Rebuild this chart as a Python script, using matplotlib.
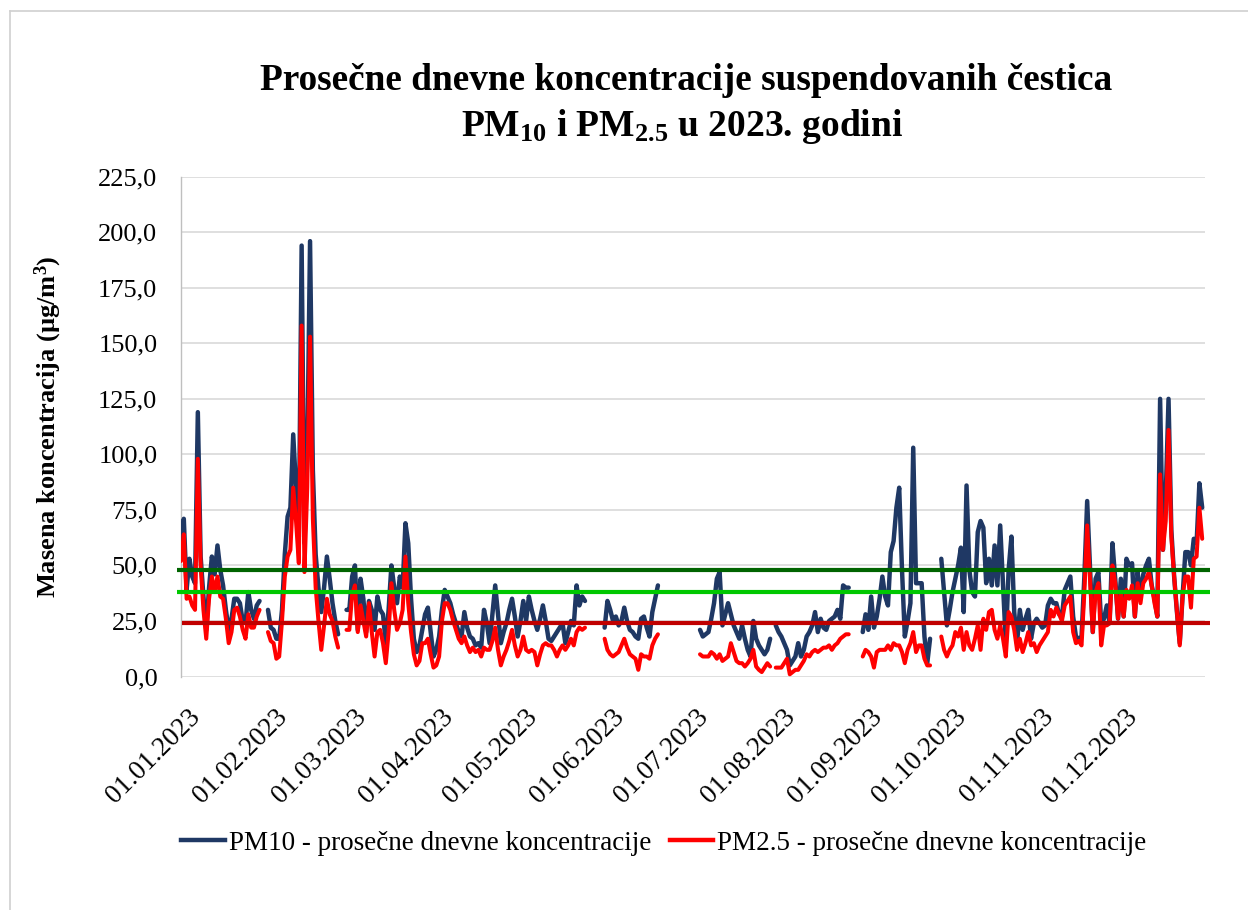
import numpy as np
import matplotlib
matplotlib.use("Agg")
import matplotlib.pyplot as plt
from matplotlib.ticker import FuncFormatter, FixedLocator
from matplotlib.transforms import ScaledTranslation
from matplotlib.lines import Line2D

nan = np.nan

# ---------------- data (daily averages, µg/m3) ----------------
pm10_jan = [59, 71, 39, 53, 45, 42, 119, 54, 36, 21, 40, 54, 46, 59, 48, 41, 30, 21, 26, 35,
            35, 33, 25, 24, 38, 30, 26, 32, 34, nan, nan]
pm25_jan = [52, 64, 35, 36, 32, 30, 98, 50, 30, 17, 35, 45, 38, 45, 36, 35, 26, 15, 20, 30,
            31, 27, 21, 17, 28, 22, 22, 27, 30, nan, nan]
pm10_feb = [30, 22, 21, 17, 17, 30, 55, 72, 76, 109, 85, 63, 194, 60, 98, 196, 93, 55, 40, 29,
            40, 54, 44, 33, 25, 19, nan, nan]
pm25_feb = [20, 16, 15, 8, 9, 25, 45, 54, 57, 85, 70, 51, 158, 47, 85, 153, 71, 40, 25, 12,
            23, 35, 28, 25, 18, 13, nan, nan]
pm10_mar = [30, 30, 45, 50, 21, 44, 35, 20, 34, 30, 21, 36, 30, 28, 15, 30, 50, 40, 33, 45,
            40, 69, 60, 35, 17, 11, 14, 21, 28, 31, 20]
pm25_mar = [21, 21, 37, 41, 20, 32, 25, 18, 33, 20, 9, 20, 21, 15, 6, 20, 42, 30, 21, 24,
            30, 54, 33, 20, 10, 5, 7, 15, 15, 17, 10]
pm10_apr = [9, 12, 18, 30, 39, 36, 33, 28, 24, 20, 18, 29, 22, 18, 17, 14, 15, 13, 30, 24,
            15, 28, 41, 28, 15, 20, 24, 30, 35, 27]
pm25_apr = [4, 5, 9, 25, 33, 33, 30, 25, 21, 17, 15, 18, 14, 11, 13, 11, 12, 9, 13, 12,
            12, 16, 22, 12, 5, 9, 12, 16, 21, 14]
pm10_may = [18, 25, 34, 25, 36, 30, 25, 21, 26, 32, 25, 17, 16, 18, 20, 22, 24, 15, 20, 25,
            23, 41, 32, 36, 34, nan, nan, nan, nan, nan, nan]
pm25_may = [9, 12, 18, 12, 11, 12, 11, 5, 10, 14, 15, 14, 14, 12, 9, 12, 14, 12, 14, 17,
            14, 20, 22, 21, 22, nan, nan, nan, nan, nan, nan]
pm10_jun = [22, 34, 30, 25, 27, 23, 25, 31, 25, 21, 20, 18, 17, 26, 27, 22, 18, 29, 35, 41,
            nan, nan, nan, nan, nan, nan, nan, nan, nan, nan]
pm25_jun = [17, 12, 10, 9, 10, 11, 14, 17, 13, 10, 9, 8, 3, 10, 9, 9, 8, 14, 17, 19,
            nan, nan, nan, nan, nan, nan, nan, nan, nan, nan]
pm10_jul = [nan, nan, nan, nan, 21, 18, 19, 20, 26, 33, 44, 47, 23, 28, 33, 28, 23, 20, 17, 23,
            17, 12, 9, 25, 17, 14, 12, 10, 12, 17, nan]
pm25_jul = [nan, nan, nan, nan, 10, 9, 9, 9, 11, 10, 8, 10, 7, 8, 9, 15, 11, 7, 6, 6,
            4.5, 6, 8, 12, 4.5, 3, 2, 4, 6, 4.5, nan]
pm10_aug = [23, 20, 18, 15, 12, 5, 7, 9, 15, 9, 12, 18, 20, 23, 29, 20, 26, 22, 21, 25,
            26, 27, 30, 26, 41, 40, 40, nan, nan, nan, nan]
pm25_aug = [4, 4, 4, 6, 8, 1, 2, 3, 3, 5, 7, 10, 9, 11, 12, 11, 12, 13, 13, 14,
            12, 14, 15, 17, 18, 19, 19, nan, nan, nan, nan]
pm10_sep = [20, 28, 21, 36, 22, 27, 35, 45, 36, 32, 56, 61, 76, 85, 48, 18, 25, 33, 103, 42,
            42, 42, 18, 6, 17, nan, nan, nan, 53, 38]
pm25_sep = [9, 12, 11, 9, 4, 11, 12, 12, 12, 14, 12, 15, 14, 14, 11, 6, 12, 15, 20, 11,
            14, 14, 8, 5, 5, nan, nan, nan, 18, 12]
pm10_oct = [23, 30, 38, 44, 50, 58, 29, 86, 48, 38, 36, 65, 70, 67, 42, 53, 41, 59, 41, 68,
            41, 15, 48, 63, 29, 15, 30, 21, 26, 30, 17]
pm25_oct = [9, 12, 14, 20, 18, 22, 12, 20, 14, 12, 17, 23, 12, 26, 21, 29, 30, 21, 17, 23,
            17, 9, 29, 27, 21, 12, 17, 11, 15, 20, 14]
pm10_nov = [24, 26, 24, 22, 23, 32, 35, 33, 33, 28, 27, 39, 42, 45, 27, 18, 17, 18, 45, 79,
            50, 20, 44, 47, 24, 26, 32, 24, 60, 44]
pm25_nov = [15, 11, 14, 16, 18, 20, 30, 27, 31, 28, 25, 32, 34, 36, 20, 15, 16, 14, 38, 68,
            44, 20, 38, 42, 14, 23, 23, 24, 50, 42]
pm10_dec = [26, 44, 27, 53, 50, 51, 27, 47, 36, 46, 50, 53, 41, 35, 27, 125, 57, 81, 125, 66,
            45, 29, 15, 36, 56, 56, 50, 62, 60, 87, 76]
pm25_dec = [26, 38, 27, 39, 35, 41, 27, 42, 33, 42, 44, 47, 41, 33, 27, 91, 57, 70, 111, 63,
            45, 29, 14, 36, 45, 45, 31, 53, 54, 76, 62]

# reference levels drawn across the chart
ref_levels = [48.0, 38.0, 24.0]
ref_colors = ["#006400", "#00C800", "#C00000"]

month_labels = ["01.01.2023", "01.02.2023", "01.03.2023", "01.04.2023", "01.05.2023",
                "01.06.2023", "01.07.2023", "01.08.2023", "01.09.2023", "01.10.2023",
                "01.11.2023", "01.12.2023"]
month_lengths = [31, 28, 31, 30, 31, 30, 31, 31, 30, 31, 30, 31]

series_label_pm10 = "PM10 - prosečne dnevne koncentracije"
series_label_pm25 = "PM2.5 - prosečne dnevne koncentracije"

pm10 = np.array(pm10_jan + pm10_feb + pm10_mar + pm10_apr + pm10_may + pm10_jun +
                pm10_jul + pm10_aug + pm10_sep + pm10_oct + pm10_nov + pm10_dec, dtype=float)
pm25 = np.array(pm25_jan + pm25_feb + pm25_mar + pm25_apr + pm25_may + pm25_jun +
                pm25_jul + pm25_aug + pm25_sep + pm25_oct + pm25_nov + pm25_dec, dtype=float)
days = np.arange(len(pm10))
month_starts = np.concatenate([[0], np.cumsum(month_lengths)[:-1]])

# ---------------- style ----------------
plt.rcParams['font.family'] = ['Liberation Serif', 'DejaVu Serif']
plt.rcParams['mathtext.fontset'] = 'custom'
plt.rcParams['mathtext.rm'] = 'Liberation Serif:bold'
plt.rcParams['mathtext.bf'] = 'Liberation Serif:bold'
plt.rcParams['mathtext.it'] = 'Liberation Serif:bold:italic'

W, H = 1248, 910
fig = plt.figure(figsize=(W / 100, H / 100), dpi=100)
fig.patch.set_facecolor('white')

x0, x1, ytop, ybot = 181, 1205, 176.7, 676.5
ax = fig.add_axes([x0 / W, 1 - ybot / H, (x1 - x0) / W, (ybot - ytop) / H])

blue = "#1F3864"
red = "#FF0000"

ax.plot(days, pm10, color=blue, lw=3.2, solid_joinstyle='round', solid_capstyle='round',
        zorder=3)
ax.plot(days, pm25, color=red, lw=2.9, solid_joinstyle='round', solid_capstyle='round',
        zorder=4)

for lvl, c in zip(ref_levels, ref_colors):
    start = -1.5 if c != "#C00000" else 0.3
    ax.plot([start, 366.8], [lvl, lvl], color=c, lw=3.0, zorder=5, clip_on=False,
            solid_capstyle='butt')

ax.set_xlim(0, 365)
ax.set_ylim(0, 225)
ax.yaxis.set_major_locator(FixedLocator(np.arange(0, 226, 25)))
ax.yaxis.set_major_formatter(FuncFormatter(lambda v, p: f"{v:.1f}".replace('.', ',')))
ax.grid(axis='y', color='#D9D9D9', lw=1.2)
ax.set_axisbelow(True)
for s in ['top', 'right', 'bottom']:
    ax.spines[s].set_visible(False)
ax.spines['left'].set_color('#BFBFBF')
ax.spines['left'].set_linewidth(1.0)

ax.set_xticks(month_starts)
ax.set_xticklabels(month_labels, rotation=45, ha='right', va='top', rotation_mode='anchor')
ax.tick_params(axis='x', length=0, pad=20, labelsize=19.5)
ax.tick_params(axis='y', length=0, pad=17, labelsize=19)
off = ScaledTranslation(7 / 100, 0, fig.dpi_scale_trans)
for lab in ax.get_xticklabels():
    lab.set_transform(lab.get_transform() + off)

ax.set_ylabel(r"Masena koncentracija (µg/m$^{3}$)", fontsize=19, fontweight='bold')
ax.yaxis.set_label_coords((64 - x0) / (x1 - x0), 0.5)

fig.text(686 / W, 1 - 80 / H, "Prosečne dnevne koncentracije suspendovanih čestica",
         ha='center', va='center', fontsize=26.8, fontweight='bold')
fig.text(682 / W, 1 - 126 / H, r"PM$_{10}$ i PM$_{2.5}$ u 2023. godini",
         ha='center', va='center', fontsize=27, fontweight='bold')

handles = [Line2D([], [], color=blue, lw=3.2), Line2D([], [], color=red, lw=3.2)]
fig.legend(handles, [series_label_pm10, series_label_pm25], loc='center',
           bbox_to_anchor=(664 / W, 1 - 843 / H), ncol=2, frameon=False, fontsize=19.5,
           handlelength=1.6, handletextpad=0.15, columnspacing=0.7)

# outer chart frame (left and top edges visible)
fig.add_artist(Line2D([10 / W, 10 / W], [0, 1 - 11 / H], color='#D0D0D0', lw=1.2,
                      transform=fig.transFigure))
fig.add_artist(Line2D([10 / W, 1], [1 - 11 / H, 1 - 11 / H], color='#D0D0D0', lw=1.2,
                      transform=fig.transFigure))

fig.savefig("out.png", dpi=100)
